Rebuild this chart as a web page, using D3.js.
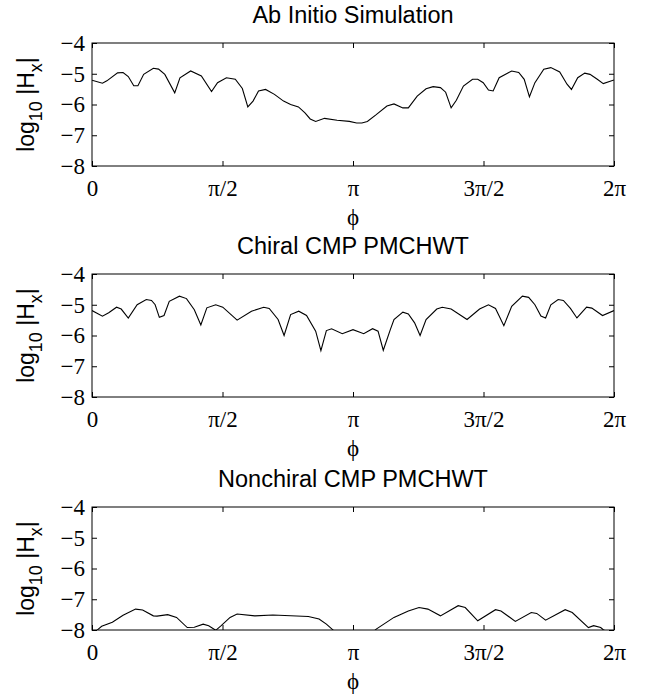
<!DOCTYPE html>
<html>
<head>
<meta charset="utf-8">
<script src="https://cdn.jsdelivr.net/npm/d3@7"></script>
<style>
  body { margin: 0; background: #fff; }
  .tick text { font-family: "Liberation Serif", "Times New Roman", serif; font-size: 23px; fill: #000; }
  .domain { display: none; }
  .tick line { stroke: #000; stroke-width: 1; }
  .ttl, .ylab { font-family: "Liberation Sans", Arial, sans-serif; fill: #000; }
</style>
</head>
<body>
<div id="chart"></div>
<script>
// phi values in units of pi, log10|Hx| values
var abPhi = [0, 0.040, 0.057, 0.098, 0.119, 0.139, 0.160, 0.176, 0.198, 0.235, 0.255, 0.279, 0.317, 0.337,
  0.378, 0.419, 0.458, 0.481, 0.515, 0.549, 0.576, 0.597, 0.617, 0.638, 0.665, 0.699, 0.734, 0.761, 0.791,
  0.816, 0.836, 0.857, 0.891, 0.939, 0.986, 1.014, 1.034, 1.055, 1.089, 1.130, 1.157, 1.191, 1.212, 1.246,
  1.280, 1.307, 1.335, 1.355, 1.376, 1.396, 1.423, 1.458, 1.478, 1.499, 1.519, 1.537, 1.560, 1.608, 1.635,
  1.656, 1.676, 1.697, 1.731, 1.758, 1.792, 1.820, 1.837, 1.861, 1.888, 1.908, 1.936, 1.959, 2.0];
var abVal = [-5.21, -5.31, -5.23, -4.97, -4.96, -5.09, -5.39, -5.39, -5.02, -4.82, -4.85, -5.02, -5.62, -5.13,
  -4.91, -5.07, -5.58, -5.29, -5.13, -5.18, -5.48, -6.08, -5.89, -5.56, -5.51, -5.67, -5.89, -6.0, -6.08,
  -6.27, -6.47, -6.55, -6.45, -6.51, -6.55, -6.6, -6.6, -6.55, -6.33, -6.05, -5.98, -6.11, -6.11, -5.73,
  -5.49, -5.42, -5.45, -5.6, -6.11, -5.86, -5.4, -5.18, -5.18, -5.29, -5.53, -5.56, -5.13, -4.91, -4.96,
  -5.18, -5.75, -5.29, -4.85, -4.8, -4.94, -5.34, -5.51, -5.13, -4.98, -5.02, -5.18, -5.32, -5.2];

var chPhi = [0, 0.040, 0.064, 0.094, 0.112, 0.139, 0.173, 0.208, 0.228, 0.242, 0.258, 0.276, 0.296, 0.335,
  0.362, 0.392, 0.417, 0.440, 0.474, 0.501, 0.556, 0.611, 0.658, 0.679, 0.713, 0.736, 0.761, 0.792, 0.822,
  0.857, 0.877, 0.898, 0.918, 0.959, 1.0, 1.041, 1.075, 1.096, 1.116, 1.143, 1.157, 1.191, 1.212, 1.236,
  1.257, 1.280, 1.321, 1.342, 1.376, 1.437, 1.485, 1.519, 1.546, 1.578, 1.608, 1.649, 1.673, 1.697, 1.720,
  1.738, 1.758, 1.786, 1.806, 1.833, 1.858, 1.895, 1.915, 1.956, 2.0];
var chVal = [-5.19, -5.37, -5.26, -5.08, -5.14, -5.43, -5.0, -4.83, -4.86, -5.0, -5.41, -5.35, -4.89, -4.72,
  -4.8, -5.16, -5.66, -5.1, -5.0, -5.08, -5.5, -5.21, -5.08, -5.12, -5.48, -6.0, -5.32, -5.21, -5.35,
  -5.86, -6.49, -5.84, -5.78, -5.94, -5.81, -5.94, -5.78, -5.86, -6.48, -5.81, -5.48, -5.24, -5.3, -5.59,
  -6.0, -5.48, -5.14, -5.08, -5.14, -5.48, -5.14, -5.0, -5.12, -5.68, -5.05, -4.72, -4.76, -5.0, -5.37,
  -5.43, -5.0, -4.83, -4.86, -5.12, -5.43, -5.08, -5.11, -5.35, -5.19];

var ncPhi = [0, 0.023, 0.037, 0.078, 0.119, 0.167, 0.194, 0.235, 0.249, 0.290, 0.324, 0.365, 0.392, 0.426,
  0.447, 0.474, 0.495, 0.529, 0.556, 0.624, 0.693, 0.829, 0.870, 0.898, 0.925, 0.993, 1.048, 1.089, 1.157,
  1.212, 1.253, 1.287, 1.335, 1.403, 1.430, 1.478, 1.546, 1.567, 1.622, 1.683, 1.704, 1.738, 1.813, 1.840,
  1.902, 1.922, 1.949, 1.960, 2.0];
var ncVal = [-8.15, -7.98, -7.88, -7.75, -7.52, -7.32, -7.35, -7.54, -7.55, -7.5, -7.59, -7.92, -7.91, -7.81,
  -7.86, -8.01, -7.86, -7.59, -7.48, -7.54, -7.51, -7.56, -7.64, -7.81, -8.01, -8.5, -8.3, -7.97, -7.59,
  -7.38, -7.27, -7.32, -7.54, -7.21, -7.27, -7.7, -7.34, -7.38, -7.72, -7.43, -7.46, -7.68, -7.34, -7.43,
  -7.92, -7.86, -7.92, -8.0, -8.1];

var titles = ["Ab Initio Simulation", "Chiral CMP PMCHWT", "Nonchiral CMP PMCHWT"];
var xTicks = [0, 0.5, 1, 1.5, 2];
var xTickLabels = ["0", "\u03c0/2", "\u03c0", "3\u03c0/2", "2\u03c0"];
var yTicks = [-8, -7, -6, -5, -4];

var panels = [
  {title: titles[0], phi: abPhi, val: abVal, top: 43},
  {title: titles[1], phi: chPhi, val: chVal, top: 274},
  {title: titles[2], phi: ncPhi, val: ncVal, top: 507}
];

var left = 92, width = 522, height = 123;

var svg = d3.select("#chart").append("svg")
    .attr("width", 650)
    .attr("height", 698);

var x = d3.scaleLinear().domain([0, 2 * Math.PI]).range([0, width]);
var y = d3.scaleLinear().domain([-8, -4]).range([height, 0]);

var line = d3.line()
    .x(function(d) { return x(d[0] * Math.PI); })
    .y(function(d) { return y(d[1]); });

svg.append("clipPath").attr("id", "clip")
  .append("rect").attr("width", width).attr("height", height);

panels.forEach(function(p, i) {
  var g = svg.append("g")
      .attr("transform", "translate(" + left + "," + p.top + ")");

  var tv = xTicks.map(function(t) { return t * Math.PI; });

  g.append("g")
      .attr("transform", "translate(0," + height + ")")
      .call(d3.axisBottom(x).tickValues(tv).tickSize(-5).tickPadding(14)
        .tickFormat(function(d, k) { return xTickLabels[k]; }));

  g.append("g")
      .call(d3.axisTop(x).tickValues(tv).tickSize(-5).tickFormat(""));

  g.append("g")
      .call(d3.axisLeft(y).tickValues(yTicks).tickSize(-5).tickPadding(7)
        .tickFormat(function(d) { return "\u2212" + Math.abs(d); }));

  g.append("g")
      .attr("transform", "translate(" + width + ",0)")
      .call(d3.axisRight(y).tickValues(yTicks).tickSize(-5).tickFormat(""));

  g.append("rect")
      .attr("width", width)
      .attr("height", height)
      .attr("fill", "none")
      .attr("stroke", "#000")
      .attr("stroke-width", 1);

  var data = p.phi.map(function(v, k) { return [v, p.val[k]]; });

  g.append("path")
      .datum(data)
      .attr("clip-path", "url(#clip)")
      .attr("fill", "none")
      .attr("stroke", "#000")
      .attr("stroke-width", 1.1)
      .attr("d", line);

  g.append("text")
      .attr("class", "ttl")
      .attr("x", width / 2)
      .attr("y", -20)
      .attr("text-anchor", "middle")
      .style("font-size", "23.5px")
      .text(p.title);

  g.append("text")
      .attr("x", width / 2)
      .attr("y", height + 59)
      .attr("text-anchor", "middle")
      .style("font-family", "Liberation Serif, serif")
      .style("font-size", "23px")
      .text("\u03d5");

  var yl = g.append("text")
      .attr("class", "ylab")
      .attr("transform", "translate(" + (34 - left) + "," + (height / 2) + ") rotate(-90)")
      .attr("text-anchor", "middle")
      .style("font-size", "23px");
  yl.append("tspan").text("log");
  yl.append("tspan").attr("dy", 8).style("font-size", "18px").text("10");
  yl.append("tspan").attr("dy", -8).text(" |H");
  yl.append("tspan").attr("dy", 8).style("font-size", "18px").text("x");
  yl.append("tspan").attr("dy", -8).text("|");
});
</script>
</body>
</html>
